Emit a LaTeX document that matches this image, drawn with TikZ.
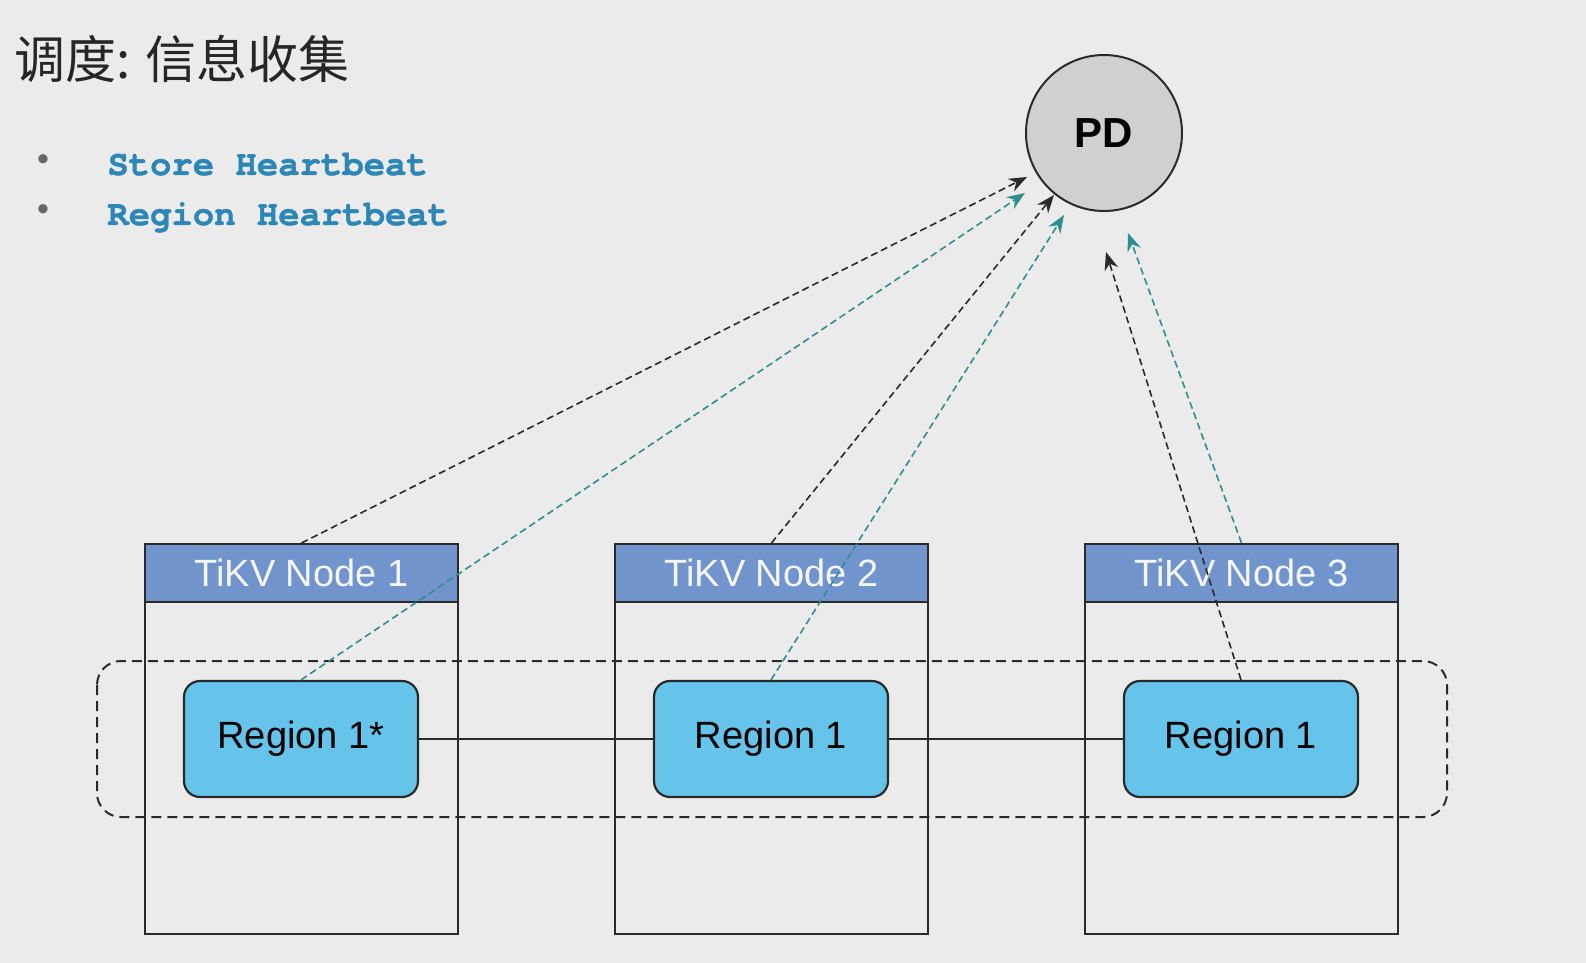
\documentclass[tikz,border=0pt]{standalone}
\usepackage{fontspec}
\setmainfont{Liberation Sans}
\newfontfamily\cjkfont{Noto Sans CJK SC}
\newfontfamily\codefont{texgyrecursor}[Extension=.otf, UprightFont=*-regular, BoldFont=*-bold, BoldFeatures={FakeBold=1.2}]
\usetikzlibrary{arrows.meta}

\definecolor{bgcol}{HTML}{EBEBEB}
\definecolor{hdrblue}{HTML}{7094CB}
\definecolor{regblue}{HTML}{66C3EA}
\definecolor{pdgray}{HTML}{D0D0D0}
\definecolor{hbteal}{HTML}{2F8E8E}
\definecolor{codeblue}{HTML}{2C86B6}
\definecolor{linegray}{HTML}{2A2A2A}

\tikzset{
    tikvhead/.style={draw=linegray, line width=1pt, fill=hdrblue, minimum width=156.5pt, minimum height=29pt,
        text=white!92!hdrblue, font=\fontsize{19}{22}\selectfont, inner sep=0pt},
    tikvbody/.style={draw=linegray, line width=1pt, minimum width=156.5pt, minimum height=166pt, inner sep=0pt},
    regionbox/.style={draw=linegray, line width=1.1pt, fill=regblue, rounded corners=8pt, minimum width=117pt,
        minimum height=58pt, font=\fontsize{19}{22}\selectfont, inner sep=0pt},
    storehb/.style={-{Stealth[length=9pt,width=7pt]}, linegray, line width=0.8pt, dash pattern=on 3.5pt off 2pt},
    regionhb/.style={-{Stealth[length=9pt,width=7pt]}, hbteal, line width=0.8pt, dash pattern=on 3.5pt off 2pt},
}

\begin{document}
\begin{tikzpicture}[x=0.5pt, y=-0.5pt]
    % Background
    \fill[bgcol] (0,0) rectangle (1586,963);

    % Title
    \node[anchor=base west, inner sep=0pt, text=black!85, font=\cjkfont\fontsize{25.5}{28}\selectfont] (title) at (14,79) {调度: 信息收集};

    % Bullets
    \node[text=black!60, font=\fontsize{17}{19}\selectfont] (dot1) at (43,163) {•};
    \node[text=black!60, font=\fontsize{17}{19}\selectfont] (dot2) at (43,213) {•};
    \node[anchor=base west, inner sep=0pt, text=codeblue, font=\codefont\bfseries\fontsize{17.8}{20}\selectfont] (store) at (107,175) {Store Heartbeat};
    \node[anchor=base west, inner sep=0pt, text=codeblue, font=\codefont\bfseries\fontsize{17.8}{20}\selectfont] (region) at (107,225) {Region Heartbeat};

    % PD
    \node[circle, draw=linegray, line width=1pt, fill=pdgray, minimum size=78pt, inner sep=0pt,
        font=\bfseries\fontsize{21}{24}\selectfont] (pd) at (1104,133) {PD};

    % Raft group
    \draw[linegray, line width=1pt, dash pattern=on 5pt off 3pt, rounded corners=12pt] (97,661) rectangle (1447,817);

    % TiKV nodes
    \foreach \i/\x/\lab in {1/301.5/Region 1*, 2/771.5/Region 1, 3/1241.5/Region 1} {
        \node[tikvbody] (body\i) at (\x,768) {};
        \node[tikvhead] (head\i) at (\x,573) {TiKV Node \i};
        \node[regionbox] (reg\i) at (\x-0.5,739) {\lab};
    }

    % Lines
    \draw[linegray, line width=1pt] (reg1) -- (reg2);
    \draw[linegray, line width=1pt] (reg2) -- (reg3);

    % Heartbeat ends
    \coordinate (s1) at (1027,177);
    \coordinate (r1) at (1025,193);
    \coordinate (s2) at (1054,195);
    \coordinate (r2) at (1064,215);
    \coordinate (r3) at (1106,252);
    \coordinate (s3) at (1128,233);

    % Heartbeats
    \draw[storehb] (head1.north) -- (s1);
    \draw[regionhb] (reg1.north) -- (r1);
    \draw[storehb] (head2.north) -- (s2);
    \draw[regionhb] (reg2.north) -- (r2);
    \draw[storehb] (reg3.north) -- (r3);
    \draw[regionhb] (head3.north) -- (s3);

    \pgfresetboundingbox
    \useasboundingbox (0,0) rectangle (1586,963);
\end{tikzpicture}
\end{document}
